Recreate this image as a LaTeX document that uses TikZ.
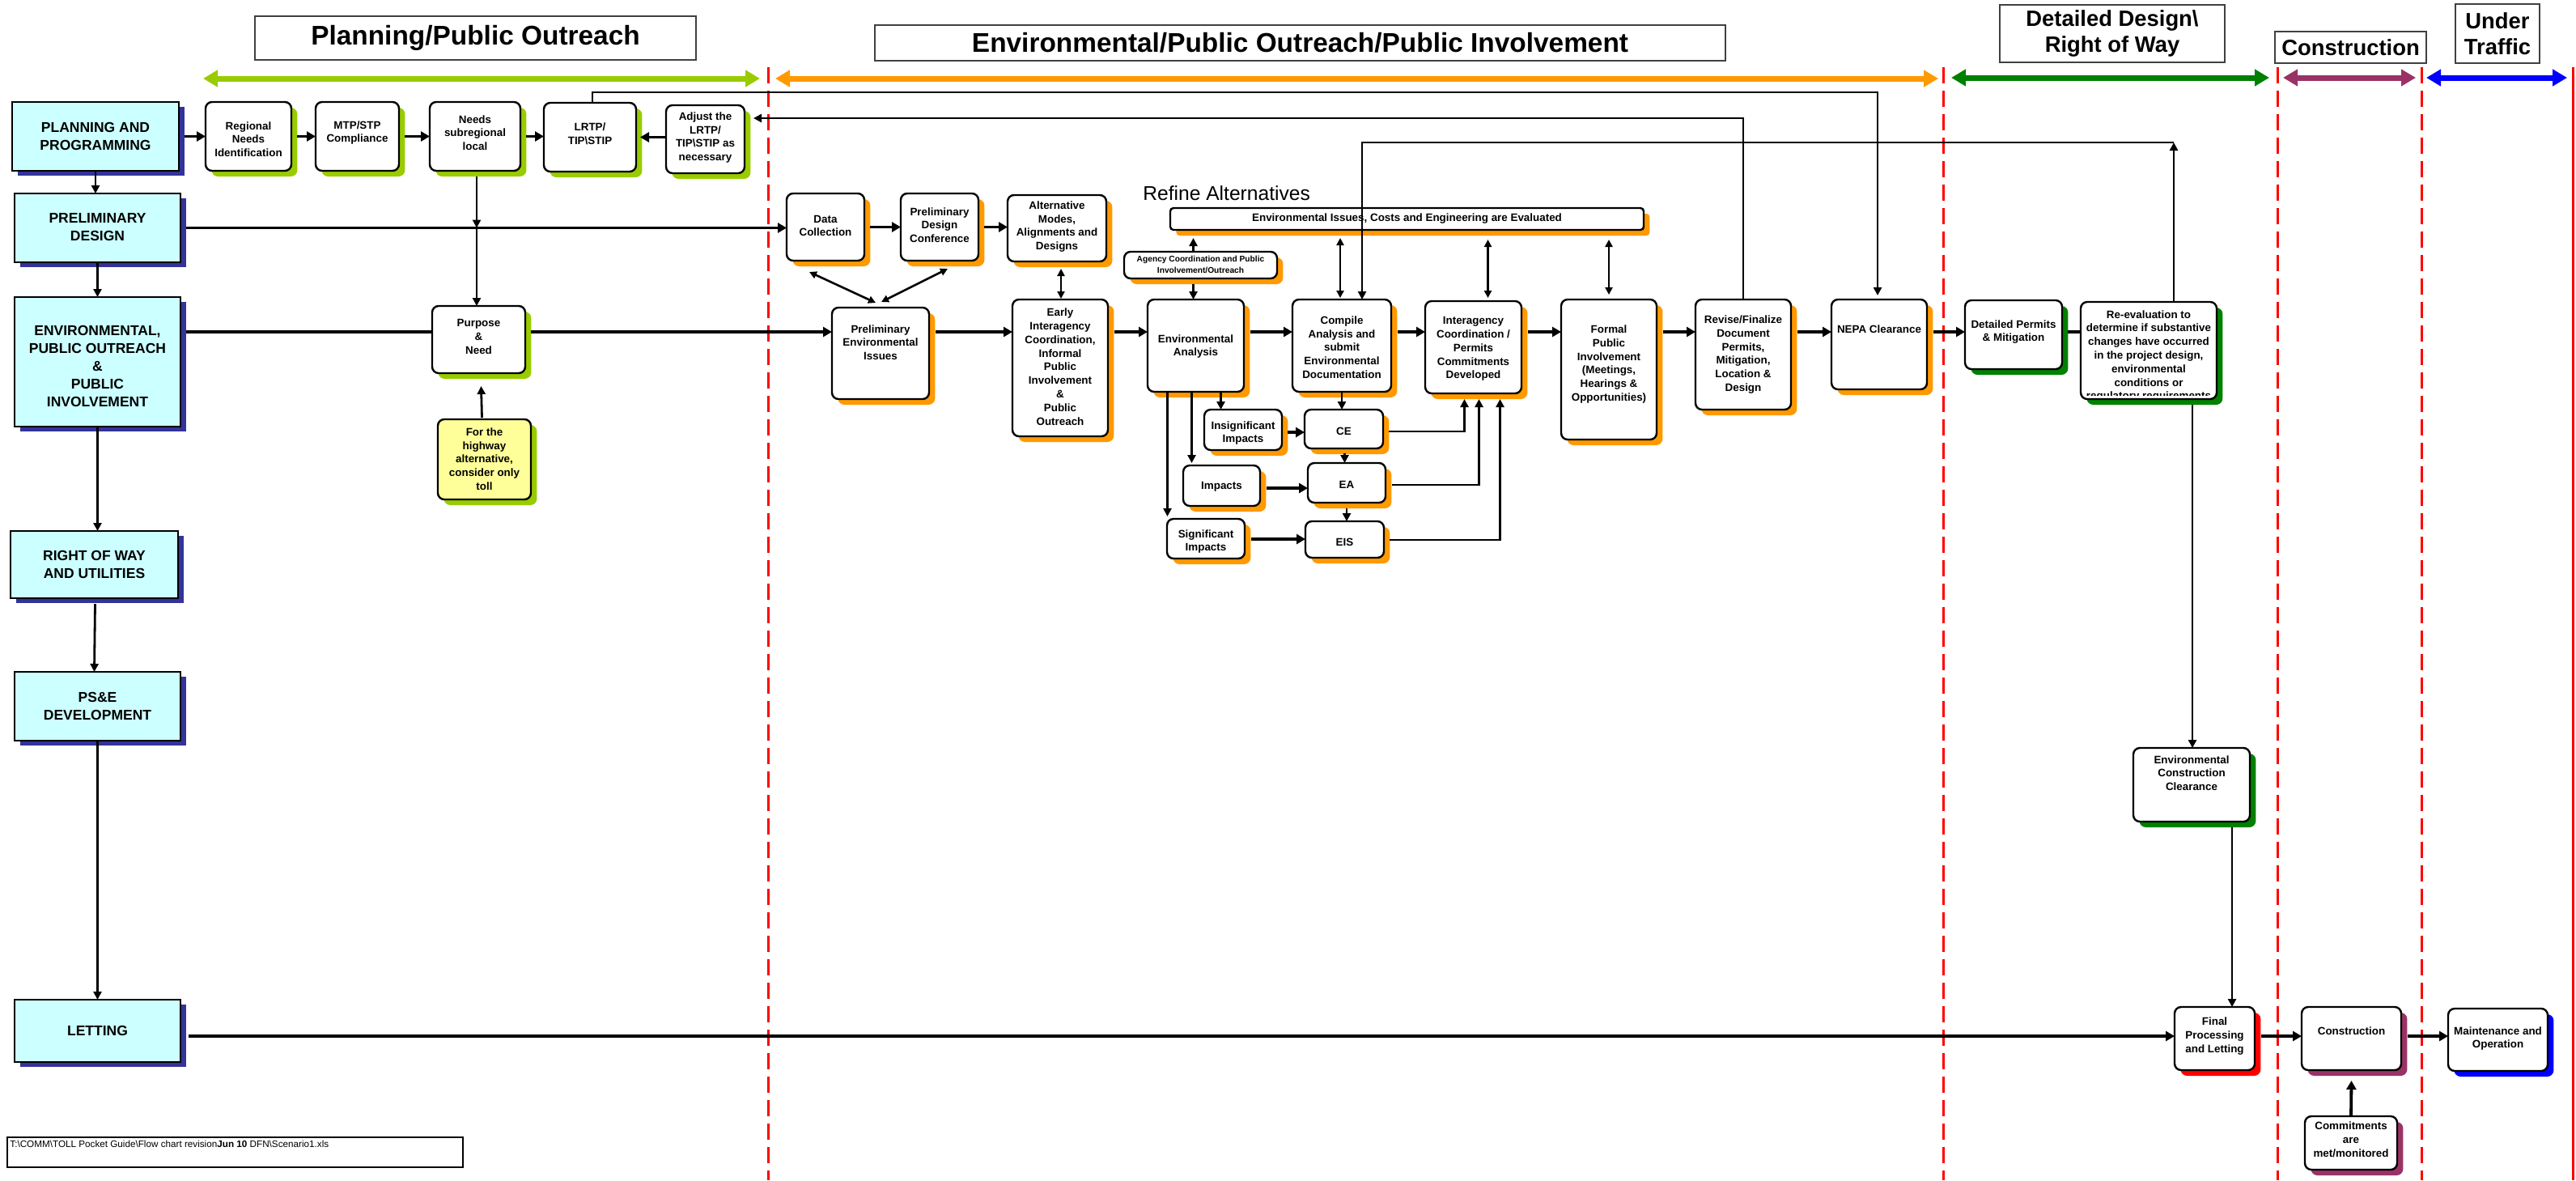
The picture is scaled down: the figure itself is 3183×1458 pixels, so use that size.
\documentclass[tikz,border=0pt]{standalone}
\usepackage{fontspec}
\setmainfont{Liberation Sans}
\usetikzlibrary{arrows.meta,shadows,calc}
\definecolor{lgreen}{HTML}{99CC00}
\definecolor{orng}{HTML}{FF9900}
\definecolor{dgreen}{HTML}{008000}
\definecolor{plum}{HTML}{993366}
\definecolor{navy}{HTML}{333399}
\definecolor{cyanfill}{HTML}{CCFFFF}
\definecolor{yellowfill}{HTML}{FFFF99}
\newcommand\flowbox[9]{%
  \node[#6,minimum width={(#4-#2)*0.5pt},minimum height={(#5-#3)*0.5pt}] (#1) at ({(#2+#4)/2},{(#3+#5)/2}) {};
  \node[#7] (#1t) at ({(#2+#4)/2},#8) {#9};}
\newcommand\titlebox[7]{%
  \node[ttl,#6,minimum width={(#4-#2)*0.5pt},minimum height={(#5-#3)*0.5pt}] (#1) at ({(#2+#4)/2},{(#3+#5)/2}) {#7};}
\begin{document}
\begin{tikzpicture}[x=0.5pt,y=-0.5pt,
  rb/.style={draw=black, line width=1.2pt, fill=white, rounded corners=4pt, inner sep=0pt, outer sep=0pt,
     general shadow={fill=#1, shadow xshift=3.7pt, shadow yshift=-3.5pt}},
  cy/.style={draw=black, line width=1.4pt, fill=cyanfill, inner sep=0pt, outer sep=0pt,
     general shadow={fill=navy, shadow xshift=3.5pt, shadow yshift=-3pt}},
  bt/.style={align=center, inner sep=0pt, font=\fontsize{6.7}{8.4}\selectfont\bfseries},
  ct/.style={align=center, inner sep=0pt, font=\fontsize{8.75}{11}\selectfont\bfseries},
  st/.style={align=center, inner sep=0pt, font=\fontsize{5.1}{6.9}\selectfont\bfseries},
  ttl/.style={draw=black!75, line width=1pt, fill=white, inner sep=0pt, align=center},
  bigttl/.style={font=\fontsize{16.7}{16}\selectfont\bfseries},
  smallttl/.style={font=\fontsize{13.7}{16}\selectfont\bfseries},
  conn/.style={line width=1.4pt, -{Triangle[length=5pt,width=5pt]}},
  heavy/.style={line width=1.9pt, -{Triangle[length=5.5pt,width=6pt]}},
  dbl/.style={line width=1.3pt, {Triangle[length=4.5pt,width=4.5pt]}-{Triangle[length=4.5pt,width=4.5pt]}},
  plain/.style={line width=1.6pt},
  phase/.style={line width=3.5pt, {Triangle[length=9pt,width=10pt]}-{Triangle[length=9pt,width=10pt]}},
  reddash/.style={draw=red, line width=1.5pt, dash pattern=on 10pt off 4.5pt}]
\fill[white] (0,0) rectangle (3183,1458);
\useasboundingbox (0,0) rectangle (3183,1458);

% phase separators
\foreach \xx in {949,2401,2814,2992} \draw[reddash] (\xx,83) -- (\xx,1458);
\draw[red, line width=1.5pt] (3179,83) -- (3179,1458);

% titles
\titlebox{tPlan}{315}{20}{860}{74}{bigttl}{Planning/Public Outreach}
\titlebox{tEnv}{1081}{31}{2132}{75}{bigttl}{Environmental/Public Outreach/Public Involvement}
\titlebox{tDet}{2471}{6}{2749}{77}{smallttl}{Detailed Design\textbackslash\\Right of Way}
\titlebox{tCon}{2811}{39}{2998}{78}{smallttl}{Construction}
\titlebox{tUnd}{3034}{5}{3138}{78}{smallttl}{Under\\Traffic}

% phase arrows
\draw[phase, color=lgreen] (251,97) -- (939,97);
\draw[phase, color=orng] (958,97) -- (2395,97);
\draw[phase, color=dgreen] (2411,96) -- (2804,96);
\draw[phase, color=plum] (2821,96) -- (2985,96);
\draw[phase, color=blue] (2998,96) -- (3172,96);

% left column
\flowbox{PP}{15}{126}{221}{211}{cy}{ct}{168}{PLANNING AND\\PROGRAMMING}
\flowbox{PD}{18}{239}{223}{324}{cy}{ct}{281}{PRELIMINARY\\DESIGN}
\flowbox{ENV}{18}{367}{223}{527}{cy}{ct}{452}{ENVIRONMENTAL,\\PUBLIC OUTREACH\\\&\\PUBLIC\\INVOLVEMENT}
\flowbox{ROW}{13}{656}{220}{739}{cy}{ct}{697}{RIGHT OF WAY\\AND UTILITIES}
\flowbox{PSE}{18}{830}{223}{915}{cy}{ct}{872}{PS\&E\\DEVELOPMENT}
\flowbox{LET}{18}{1235}{223}{1312}{cy}{ct}{1273}{LETTING}

% planning row
\flowbox{REG}{254}{126}{360}{211}{rb=lgreen}{bt}{172}{Regional\\Needs\\Identification}
\flowbox{MTP}{390}{126}{493}{211}{rb=lgreen}{bt}{164}{MTP/STP\\Compliance}
\flowbox{NEED}{531}{126}{643}{211}{rb=lgreen}{bt}{164}{Needs\\subregional\\local}
\flowbox{LRTP}{672}{127}{786}{212}{rb=lgreen}{bt}{165}{LRTP/\\TIP\textbackslash STIP}
\flowbox{ADJ}{823}{130}{920}{214}{rb=lgreen}{bt}{170}{Adjust the\\LRTP/\\TIP\textbackslash STIP as\\necessary}
\flowbox{PN}{534}{378}{649}{461}{rb=lgreen}{bt}{416}{Purpose\\\&\\Need}
\flowbox{YEL}{541}{518}{656}{617}{rb=lgreen,fill=yellowfill}{bt}{567}{For the\\highway\\alternative,\\consider only\\toll}

% environmental phase
\flowbox{DC}{972}{239}{1068}{322}{rb=orng}{bt}{279}{Data\\Collection}
\flowbox{PDC}{1113}{239}{1209}{322}{rb=orng}{bt}{278}{Preliminary\\Design\\Conference}
\flowbox{ALT}{1245}{241}{1367}{323}{rb=orng}{bt}{280}{Alternative\\Modes,\\Alignments and\\Designs}
\flowbox{PEI}{1028}{380}{1148}{493}{rb=orng}{bt}{423}{Preliminary\\Environmental\\Issues}
\flowbox{EARLY}{1251}{370}{1369}{539}{rb=orng}{bt}{453}{Early\\Interagency\\Coordination,\\Informal\\Public\\Involvement\\\&\\Public\\Outreach}
\flowbox{EIE}{1446}{257}{2031}{284}{rb=orng,rounded corners=2pt}{bt}{270}{Environmental Issues, Costs and Engineering are Evaluated}
\flowbox{AGY}{1389}{311}{1578}{344}{rb=orng}{st}{327}{Agency Coordination and Public\\Involvement/Outreach}
\flowbox{EA}{1418}{370}{1537}{484}{rb=orng}{bt}{428}{Environmental\\Analysis}
\flowbox{CMP}{1597}{370}{1719}{484}{rb=orng}{bt}{429}{Compile\\Analysis and\\submit\\Environmental\\Documentation}
\flowbox{INT}{1761}{372}{1880}{486}{rb=orng}{bt}{431}{Interagency\\Coordination /\\Permits\\Commitments\\Developed}
\flowbox{FRM}{1929}{370}{2047}{543}{rb=orng}{bt}{450}{Formal\\Public\\Involvement\\(Meetings,\\Hearings \&\\Opportunities)}
\flowbox{REV}{2095}{370}{2213}{506}{rb=orng}{bt}{438}{Revise/Finalize\\Document\\Permits,\\Mitigation,\\Location \&\\Design}
\flowbox{NEPA}{2263}{370}{2381}{481}{rb=orng}{bt}{407}{NEPA Clearance}
\flowbox{INS}{1488}{506}{1584}{556}{rb=orng}{bt}{535}{Insignificant\\Impacts}
\flowbox{CE}{1612}{506}{1709}{554}{rb=orng}{bt}{533}{CE}
\flowbox{IMP}{1462}{575}{1557}{625}{rb=orng}{bt}{601}{Impacts}
\flowbox{EAB}{1616}{572}{1712}{621}{rb=orng}{bt}{599}{EA}
\flowbox{SIG}{1442}{641}{1538}{690}{rb=orng}{bt}{669}{Significant\\Impacts}
\flowbox{EIS}{1613}{644}{1710}{689}{rb=orng}{bt}{670}{EIS}
\node[anchor=west, inner sep=0pt, font=\fontsize{12.3}{14}\selectfont] (REF) at (1412,239) {Refine Alternatives};

% detailed design / construction / traffic
\flowbox{DPM}{2428}{371}{2548}{456}{rb=dgreen}{bt}{410}{Detailed Permits\\\& Mitigation}
\node[rb=dgreen, minimum width={168*0.5pt}, minimum height={120*0.5pt}] (RVE) at (2655,433) {};
\begin{scope}
  \clip (2574,376) rectangle (2736,488);
  \node[bt, anchor=north] (RVEt) at (2655,383) {Re-evaluation to\\determine if substantive\\changes have occurred\\in the project design,\\environmental\\conditions or\\regulatory requirements};
\end{scope}
\flowbox{ECC}{2636}{924}{2780}{1015}{rb=dgreen}{bt}{955}{Environmental\\Construction\\Clearance}
\flowbox{FIN}{2687}{1244}{2786}{1322}{rb=red}{bt}{1280}{Final\\Processing\\and Letting}
\flowbox{CON}{2844}{1244}{2967}{1322}{rb=plum}{bt}{1274}{Construction}
\flowbox{COM}{2848}{1379}{2962}{1445}{rb=plum}{bt}{1408}{Commitments\\are\\met/monitored}
\flowbox{MNT}{3025}{1246}{3148}{1323}{rb=blue}{bt}{1283}{Maintenance and\\Operation}

% footer
\node[draw=black, line width=0.8pt, fill=white, inner sep=0pt, minimum width={563*0.5pt}, minimum height={37*0.5pt}] (FOOT) at (290.5,1423.5) {};
\node[anchor=west, inner sep=0pt, font=\fontsize{5.85}{6.5}\selectfont] (FOOTt) at (12,1413) {T:\textbackslash COMM\textbackslash TOLL Pocket Guide\textbackslash Flow chart revision\textbf{Jun 10} DFN\textbackslash Scenario1.xls};

% ---------- connectors ----------
% left column
\draw[conn] (PP.south) -- (PP.south |- PD.north);
\draw[conn] (PD.south) -- (PD.south |- ENV.north);
\draw[conn] (ENV.south) -- (ENV.south |- ROW.north);
\draw[conn] ($(ROW.south)+(1,7)$) -- (ROW.south |- PSE.north);
\draw[conn] (PSE.south) -- (PSE.south |- LET.north);

% planning row
\draw[heavy] ($(PP.east)+(7,0)$) -- (REG.west);
\draw[heavy] ($(REG.east)+(7,0)$) -- (MTP.west);
\draw[heavy] ($(MTP.east)+(7,0)$) -- (NEED.west);
\draw[heavy] ($(NEED.east)+(7,0)$) -- (NEED.east -| LRTP.west);
\draw[heavy] (ADJ.west |- LRTP.east) -- ($(LRTP.east)+(5,0)$);
\coordinate (n1) at ($(NEED.south)+(2,7)$);
\coordinate (j1) at (n1 |- PD.east);
\draw[conn] (n1) -- (j1);
\draw[conn] (j1) -- (j1 |- PN.north);
\draw[conn] ($(YEL.north)+(-3,-2)$) -- ($(PN.south)+(3,16)$);

% preliminary design line
\draw[heavy] ($(PD.east)+(7,0)$) -- (PD.east -| DC.west);
\draw[heavy] ($(DC.east)+(7,0)$) -- (DC.east -| PDC.west);
\draw[heavy] ($(PDC.east)+(7,0)$) -- (PDC.east -| ALT.west);
\draw[dbl] ($(DC.south)+(-20,14)$) -- ($(PEI.north)+(-6,-6)$);
\draw[dbl] ($(PDC.south)+(10,10)$) -- ($(PEI.north)+(1,-7)$);
\draw[dbl] ($(ALT.south)+(5,9)$) -- ($(EARLY.north)+(1,-1)$);

% main row
\coordinate (ry) at (0,410);
\draw[plain] ($(ENV.east |- ry)+(7,0)$) -- (PN.west |- ry);
\draw[heavy] ($(PN.east |- ry)+(7,0)$) -- (PEI.west |- ry);
\draw[heavy] ($(PEI.east |- ry)+(8,0)$) -- (EARLY.west |- ry);
\draw[heavy] ($(EARLY.east |- ry)+(8,0)$) -- (EA.west |- ry);
\draw[heavy] ($(EA.east |- ry)+(8,0)$) -- (CMP.west |- ry);
\draw[heavy] ($(CMP.east |- ry)+(8,0)$) -- (INT.west |- ry);
\draw[heavy] ($(INT.east |- ry)+(8,0)$) -- (FRM.west |- ry);
\draw[heavy] ($(FRM.east |- ry)+(8,0)$) -- (REV.west |- ry);
\draw[heavy] ($(REV.east |- ry)+(8,0)$) -- (NEPA.west |- ry);
\draw[heavy] ($(NEPA.east |- ry)+(8,0)$) -- (DPM.west |- ry);
\draw[plain] ($(DPM.east |- ry)+(7,0)$) -- (RVE.west |- ry);

% agency and evaluation links
\coordinate (g1) at ($(AGY.north)+(-9,0)$);
\draw[conn] (g1) -- ($(g1 |- EIE.south)+(0,10)$);
\draw[conn] ($(AGY.south)+(-9,7)$) -- ($(EA.north)+(-3,0)$);
\draw[dbl] ($(CMP.north |- EIE.south)+(-2,10)$) -- ($(CMP.north)+(-2,-2)$);
\draw[dbl] ($(INT.north |- EIE.south)+(18,12)$) -- ($(INT.north)+(18,-4)$);
\draw[dbl] ($(FRM.north |- EIE.south)+(0,12)$) -- ($(FRM.north)+(0,-6)$);

% long feedback lines
\coordinate (u1) at ($(RVE.north)+(31,0)$);
\coordinate (u2) at (u1 |- 0,176);
\draw[conn] (u1) -- (u2);
\draw[conn] (u2) -| ($(CMP.north)+(25,0)$);
\coordinate (a1) at ($(ADJ.east)+(11,0)$);
\draw[conn] (REV.north) |- (a1 |- 0,146);
\coordinate (t1) at ($(LRTP.north)+(3,0)$);
\draw[conn] (t1) -- (t1 |- 0,114) -| ($(NEPA.north)+(-2,-5)$);

% impacts
\coordinate (e1) at ($(EA.south)+(31,0)$);
\draw[conn] (e1) -- (e1 |- INS.north);
\coordinate (e2) at ($(EA.south)+(-5,0)$);
\draw[conn] (e2) -- ($(e2 |- IMP.north)+(0,-3)$);
\coordinate (e3) at ($(EA.south)+(-35,0)$);
\draw[conn] (e3) -- ($(e3 |- SIG.north)+(0,-3)$);
\draw[conn] (CMP.south) -- (CMP.south |- CE.north);
\coordinate (c2) at ($(CE.south)+(1,6)$);
\draw[conn] (c2) -- (c2 |- EAB.north);
\coordinate (c3) at ($(EAB.south)+(0,7)$);
\draw[conn] (c3) -- (c3 |- EIS.north);
\draw[heavy] ($(INS.east |- 0,534)+(7,0)$) -- (CE.west |- 0,534);
\draw[heavy] ($(IMP.east |- 0,603)+(8,0)$) -- (EAB.west |- 0,603);
\draw[heavy] ($(SIG.east |- 0,666)+(8,0)$) -- (EIS.west |- 0,666);
\draw[conn] ($(CE.east |- 0,533)+(7,0)$) -| ($(INT.south)+(-11,7)$);
\draw[conn] ($(EAB.east |- 0,599)+(8,0)$) -| ($(INT.south)+(7,7)$);
\draw[conn] ($(EIS.east |- 0,667)+(7,0)$) -| ($(INT.south)+(33,7)$);

% later phases
\coordinate (r1) at ($(RVE.south)+(54,7)$);
\draw[conn] (r1) -- (r1 |- ECC.north);
\coordinate (r2) at ($(ECC.south)+(50,7)$);
\draw[conn] (r2) -- (r2 |- FIN.north);
\draw[heavy] ($(LET.east |- 0,1280)+(10,0)$) -- (FIN.west |- 0,1280);
\draw[heavy] ($(FIN.east |- 0,1280)+(8,0)$) -- (CON.west |- 0,1280);
\draw[heavy] ($(CON.east |- 0,1280)+(8,0)$) -- (MNT.west |- 0,1280);
\draw[heavy] (COM.north) -- ($(CON.south)+(0,13)$);
\end{tikzpicture}
\end{document}
